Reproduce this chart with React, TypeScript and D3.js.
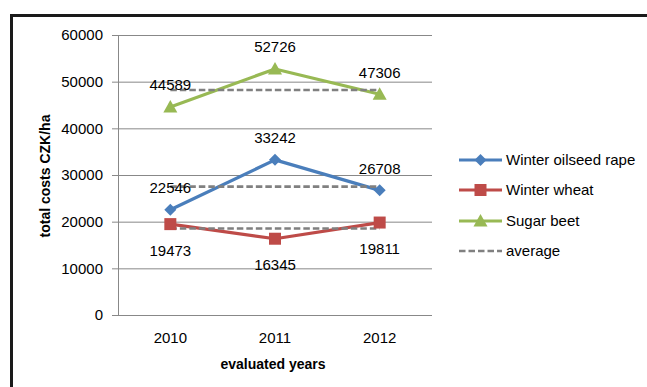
import React from "react";
import * as d3 from "d3";

const years = ["2010", "2011", "2012"];
const oilseedRape = [22546, 33242, 26708];
const winterWheat = [19473, 16345, 19811];
const sugarBeet = [44589, 52726, 47306];
const averages = [27499, 18543, 48207];
const yTicks = [0, 10000, 20000, 30000, 40000, 50000, 60000];

const series = [
  { name: "Winter oilseed rape", values: oilseedRape, color: "#4A7EBB", marker: "diamond", labelPos: "above" },
  { name: "Winter wheat", values: winterWheat, color: "#BE4B48", marker: "square", labelPos: "below" },
  { name: "Sugar beet", values: sugarBeet, color: "#98B954", marker: "triangle", labelPos: "above" },
];

const W = 647;
const H = 387;
const plot = { left: 118, right: 432, top: 35, bottom: 315 };
const font = "'Liberation Sans', Arial, sans-serif";

function Marker({ type, x, y, color }: { type: string; x: number; y: number; color: string }) {
  if (type === "diamond") {
    const s = 6;
    return <path d={`M${x},${y - s}L${x + s},${y}L${x},${y + s}L${x - s},${y}Z`} fill={color} />;
  }
  if (type === "square") {
    const s = 6;
    return <rect x={x - s} y={y - s} width={2 * s} height={2 * s} fill={color} />;
  }
  const s = 7;
  return <path d={`M${x},${y - s}L${x + s},${y + s * 0.8}L${x - s},${y + s * 0.8}Z`} fill={color} />;
}

export default function App() {
  const x = d3.scalePoint<string>().domain(years).range([plot.left, plot.right]).padding(0.5);
  const y = d3.scaleLinear().domain([0, 60000]).range([plot.bottom, plot.top]);
  const line = d3
    .line<number>()
    .x((_, i) => x(years[i]) as number)
    .y((d) => y(d));

  const legendY = [160, 190, 221, 251];
  const legendX1 = 459;
  const legendX2 = 502;

  return (
    <svg
      width={W}
      height={H}
      style={{ position: "absolute", left: 0, top: 0, display: "block" }}
      fontFamily={font}
    >
      <rect x={0} y={0} width={W} height={H} fill="#fff" />
      {/* outer frame */}
      <path d={`M11.5,${H + 5}V15.5H${W + 5}`} fill="none" stroke="#1a1a1a" strokeWidth={3} />

      {/* gridlines and y ticks */}
      {yTicks.map((t) => (
        <g key={t}>
          <line x1={plot.left - 6} x2={plot.right} y1={y(t) + 0.5} y2={y(t) + 0.5} stroke="#888" strokeWidth={1} />
          <text x={103} y={y(t)} dy="0.36em" textAnchor="end" fontSize={15} fill="#000">
            {t}
          </text>
        </g>
      ))}
      <line x1={plot.left + 0.5} x2={plot.left + 0.5} y1={plot.top} y2={plot.bottom + 0.5} stroke="#888" strokeWidth={1} />

      {/* x labels */}
      {years.map((yr) => (
        <text key={yr} x={x(yr)} y={338} dy="0.36em" textAnchor="middle" fontSize={15} fill="#000">
          {yr}
        </text>
      ))}

      {/* axis titles */}
      <text x={273} y={364} dy="0.36em" textAnchor="middle" fontSize={14} fontWeight="bold" fill="#000">
        evaluated years
      </text>
      <text
        transform={`translate(45,176) rotate(-90)`}
        dy="0.36em"
        textAnchor="middle"
        fontSize={14}
        fontWeight="bold"
        fill="#000"
      >
        total costs CZK/ha
      </text>

      {/* series lines */}
      {series.map((s) => (
        <path key={s.name} d={line(s.values) || ""} fill="none" stroke={s.color} strokeWidth={3.2} strokeLinejoin="round" />
      ))}

      {/* averages */}
      {averages.map((a, i) => (
        <line
          key={i}
          x1={x(years[0])}
          x2={x(years[years.length - 1])}
          y1={y(a)}
          y2={y(a)}
          stroke="#808080"
          strokeWidth={2.6}
          strokeDasharray="6.5,3"
        />
      ))}

      {/* markers */}
      {series.map((s) =>
        s.values.map((v, i) => (
          <Marker key={s.name + i} type={s.marker} x={x(years[i]) as number} y={y(v)} color={s.color} />
        ))
      )}

      {/* data labels */}
      {series.map((s) =>
        s.values.map((v, i) => (
          <text
            key={"l" + s.name + i}
            x={x(years[i])}
            y={y(v) + (s.labelPos === "above" ? -22 : 26)}
            dy="0.36em"
            textAnchor="middle"
            fontSize={15}
            fill="#000"
          >
            {v}
          </text>
        ))
      )}

      {/* legend */}
      {series.map((s, i) => (
        <g key={"lg" + s.name}>
          <line x1={legendX1} x2={legendX2} y1={legendY[i]} y2={legendY[i]} stroke={s.color} strokeWidth={3.2} />
          <Marker type={s.marker} x={(legendX1 + legendX2) / 2} y={legendY[i]} color={s.color} />
          <text x={506} y={legendY[i]} dy="0.36em" fontSize={15} fill="#000">
            {s.name}
          </text>
        </g>
      ))}
      <line
        x1={legendX1}
        x2={legendX2}
        y1={legendY[3]}
        y2={legendY[3]}
        stroke="#808080"
        strokeWidth={2.6}
        strokeDasharray="6.5,3"
      />
      <text x={506} y={legendY[3]} dy="0.36em" fontSize={15} fill="#000">
        average
      </text>
    </svg>
  );
}
